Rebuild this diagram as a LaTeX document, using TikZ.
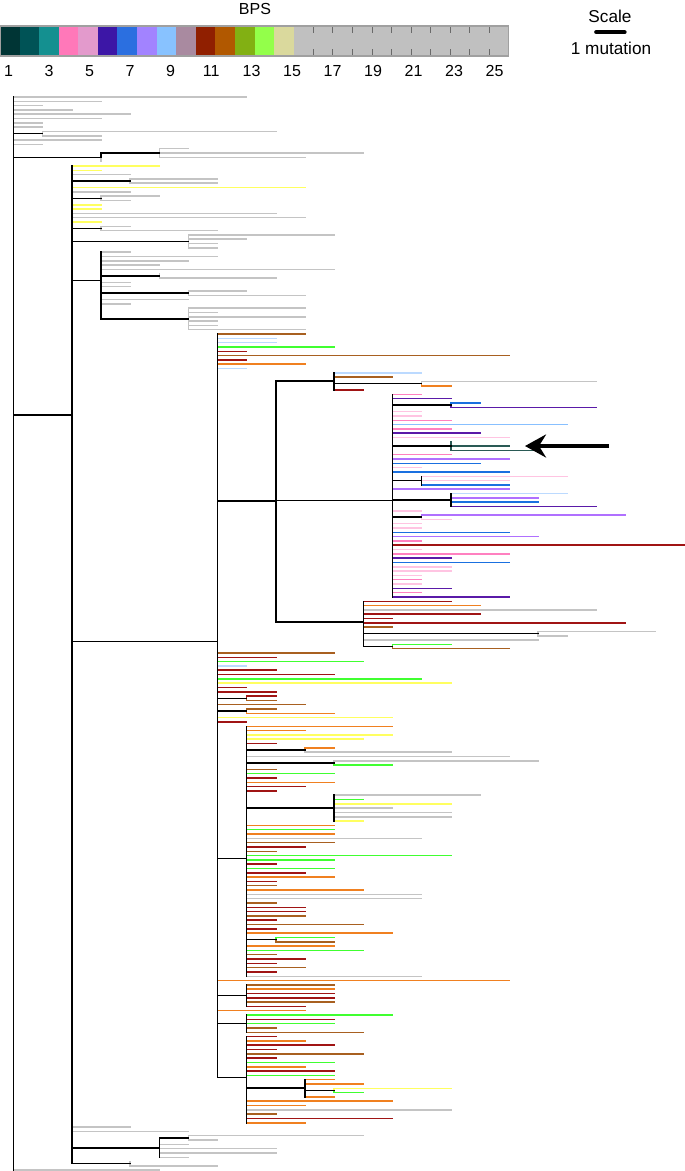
\documentclass[tikz,border=0pt]{standalone}
\usepackage{fontspec}
\setmainfont{Liberation Sans}
\usetikzlibrary{arrows.meta}
% legend colours
\definecolor{c1}{HTML}{003535}\definecolor{c2}{HTML}{005356}\definecolor{c3}{HTML}{149090}
\definecolor{c4}{HTML}{FF78B9}\definecolor{c5}{HTML}{E39ACC}\definecolor{c6}{HTML}{3C16A6}
\definecolor{c7}{HTML}{2B6FE0}\definecolor{c8}{HTML}{A283FF}\definecolor{c9}{HTML}{88C2FF}
\definecolor{c10}{HTML}{A98AA0}\definecolor{c11}{HTML}{901F00}\definecolor{c12}{HTML}{B15800}
\definecolor{c13}{HTML}{82B013}\definecolor{c14}{HTML}{93FF4A}\definecolor{c15}{HTML}{DAD99D}
\definecolor{cg}{HTML}{C0C0C0}\definecolor{bord}{HTML}{A0A0A0}\definecolor{tickc}{HTML}{6A6A6A}
% tree colours
\definecolor{gry}{HTML}{C4C4C4}\definecolor{yel}{HTML}{FFFF60}\definecolor{lblue}{HTML}{BCDAFF}
\definecolor{skyb}{HTML}{88C0FF}\definecolor{hpink}{HTML}{FF80C0}\definecolor{lpink}{HTML}{FFC4E2}
\definecolor{dpurp}{HTML}{5A1AA8}\definecolor{mpurp}{HTML}{B070FF}\definecolor{blue}{HTML}{1A70E0}
\definecolor{dred}{HTML}{A01414}\definecolor{brown}{HTML}{A86020}\definecolor{orange}{HTML}{F08020}
\definecolor{green}{HTML}{40FF30}\definecolor{teal}{HTML}{2A5A55}
\newcommand{\px}[1]{13.5+29.15*(#1)}
\newcommand{\py}[1]{97+4.31*(#1)}
\newcommand{\cw}{19.577}
\tikzset{
  tl/.style={line width=1.5pt, line cap=rect},
  lbl/.style={inner sep=0pt, font=\fontsize{16}{16}\selectfont},
  lblb/.style={inner sep=0pt, font=\fontsize{17.2}{17.2}\selectfont},
  arrowst/.style={line width=4pt, -{Stealth[length=21pt, width=23pt, inset=7pt]}}
}
\begin{document}
\begin{tikzpicture}[x=1pt,y=-1pt]
\useasboundingbox (0,0) rectangle (685,1171);
% ---------- legend ----------
\fill[cg] ({15*\cw},26) rectangle (509,56);
\foreach \i/\c in {1/c1,2/c2,3/c3,4/c4,5/c5,6/c6,7/c7,8/c8,9/c9,10/c10,11/c11,12/c12,13/c13,14/c14,15/c15}
  \fill[\c] ({(\i-1)*\cw},26) rectangle ({\i*\cw},56);
\foreach \i in {16,...,25} {
  \draw[tickc, line width=0.8pt] ({\i*\cw},26) -- ++(0,7);
  \draw[tickc, line width=0.8pt] ({\i*\cw},56) -- ++(0,-7);
}
\draw[bord, line width=1.1pt] (0.5,26) rectangle (508.5,56);
\foreach \i in {1,3,...,25}
  \node[lbl] (num\i) at ({8.6+20.25*(\i-1)},71) {\i};
\node[lbl] (bps) at (255,9) {BPS};
\node[lblb] (scale) at (610,16) {Scale};
\coordinate (sbA) at (596.3,32.2);
\coordinate (sbB) at (624.5,32.2);
\draw[line width=4.3pt, line cap=round] (sbA) -- (sbB);
\node[lblb] (mut) at (611,48.8) {1 mutation};
% ---------- leaves ----------
\foreach \r/\a/\b/\c in {
0/0/8/gry,1/0/3/gry,2/0/1/gry,3/0/2/gry,4/0/4/gry,5/0/3/gry,6/0/1/gry,7/0/1/gry,8/1/9/gry,9/1/3/gry,
10/0/3/gry,11/0/1/gry,12/5/6/gry,13/5/12/gry,14/5/10/gry,16/2/5/yel,17/2/3/yel,18/2/4/gry,19/4/7/gry,
20/4/7/gry,21/2/10/yel,22/2/4/gry,23/3/5/gry,24/3/4/gry,25/2/3/yel,26/2/3/yel,27/2/9/gry,28/2/10/gry,29/2/3/yel,
30/3/4/gry,31/3/7/gry,32/6/11/gry,33/6/8/gry,34/6/7/gry,35/6/7/gry,36/3/4/gry,37/3/7/gry,38/3/6/gry,39/3/5/gry,
40/3/11/gry,42/5/9/gry,43/3/4/gry,44/3/4/gry,45/6/8/gry,46/6/10/gry,47/3/6/gry,48/3/4/gry,49/6/10/gry,
50/6/7/gry,51/6/10/gry,52/6/7/gry,53/6/7/gry,54/6/10/gry,55/7/10/brown,56/7/9/lblue,57/7/9/lblue,58/7/11/green,59/7/8/dred,
60/7/17/brown,61/7/8/dred,62/7/10/orange,63/7/8/lblue,64/11/14/lblue,65/11/13/brown,66/14/20/gry,67/14/15/orange,68/11/12/dred,69/13/14/hpink,
70/13/15/dpurp,71/15/16/blue,72/15/20/dpurp,73/13/14/lpink,74/13/14/lpink,75/13/15/hpink,76/13/19/skyb,77/13/15/hpink,78/13/16/dpurp,79/13/17/lpink,
81/15/17/teal,82/15/18/teal,83/13/15/hpink,84/13/17/mpurp,85/13/16/blue,86/13/14/lpink,87/13/17/blue,88/14/19/lpink,89/14/17/lpink,
90/14/17/blue,91/13/17/mpurp,92/15/19/lblue,93/15/18/mpurp,94/15/18/blue,95/15/20/dpurp,96/13/14/lpink,97/14/21/mpurp,98/14/15/lpink,99/13/14/lpink,
100/13/14/lpink,101/13/17/blue,102/13/18/mpurp,103/13/14/hpink,104/13/23/dred,105/13/14/lpink,106/13/17/hpink,107/13/15/dpurp,108/13/17/blue,109/13/15/lpink,
110/13/15/lpink,111/13/14/lpink,112/13/14/hpink,113/13/14/lpink,114/13/15/dpurp,115/13/14/hpink,116/13/17/dpurp,117/12/15/dred,118/12/16/orange,119/12/20/gry,
120/12/16/dred,121/12/13/dred,122/12/21/dred,123/12/13/brown,124/18/22/gry,125/18/19/gry,126/12/18/gry,127/13/15/green,128/13/17/brown,129/7/11/brown,
130/7/9/dred,131/7/12/green,132/7/8/lblue,133/7/9/dred,134/7/11/dred,135/7/14/green,136/7/15/yel,137/7/8/dred,138/7/9/dred,139/8/9/dred,
140/8/9/brown,141/7/10/brown,142/8/9/brown,143/8/11/orange,144/7/13/yel,145/7/8/dred,146/8/13/orange,147/8/10/orange,148/8/13/yel,149/8/12/yel,
150/8/9/dred,151/10/11/orange,152/10/15/gry,153/8/17/gry,154/11/18/gry,155/11/13/green,156/8/9/brown,157/8/11/green,158/8/9/dred,159/8/11/orange,
160/8/10/dred,161/8/9/dred,162/11/16/gry,163/11/12/green,164/11/15/yel,165/11/13/gry,166/11/15/gry,167/11/15/gry,168/11/12/yel,169/8/11/orange,
170/8/11/green,171/8/11/orange,172/8/14/gry,173/8/11/brown,174/8/10/dred,175/8/9/brown,176/8/15/green,177/8/11/green,178/8/9/dred,179/8/11/green,
180/8/10/dred,181/8/11/orange,182/8/9/dred,183/8/9/brown,184/8/12/orange,185/8/14/gry,186/8/14/gry,187/8/9/brown,188/8/10/dred,189/8/10/dred,
190/8/10/brown,191/8/9/dred,192/8/12/brown,193/8/9/dred,194/8/13/orange,195/9/11/green,196/9/11/brown,197/8/11/orange,198/8/12/green,199/8/9/brown,
200/8/10/dred,201/8/9/dred,202/8/10/brown,203/8/9/dred,204/8/14/gry,205/7/17/orange,206/8/11/brown,207/8/11/orange,208/8/11/dred,209/8/11/dred,
210/8/11/brown,211/8/10/dred,212/7/10/orange,213/8/13/green,214/8/11/dred,215/8/11/green,216/8/9/brown,217/8/12/brown,218/8/9/dred,219/8/10/orange,
220/8/11/dred,221/8/9/dred,222/8/12/brown,223/8/9/dred,224/8/11/green,225/8/10/orange,226/8/11/dred,227/8/11/green,228/10/11/orange,229/10/12/orange,
230/11/15/yel,231/11/12/green,232/10/11/orange,233/8/13/orange,234/8/10/orange,235/8/15/gry,236/8/9/brown,237/8/13/dred,238/8/10/orange,239/2/4/gry,
240/2/6/gry,241/6/12/gry,242/6/7/gry,243/5/6/gry,244/5/9/gry,245/5/9/gry,246/5/6/gry,248/4/7/gry,249/0/5/gry}
  \draw[tl,\c] ({\px{\a}},{\py{\r}}) -- ({\px{\b}},{\py{\r}});
% ---------- vertical bars (level / from row / to row / colour) ----------
\foreach \l/\p/\q/\c in {
1/8/9/gry, 3/14/15/gry, 5/12/14/gry, 4/19/20/gry, 3/23/24/gry, 3/30/31/gry, 6/32/35/gry,
5/41/42/gry, 6/45/46/gry, 6/49/54/gry,
14/66/66.5/gry, 14/66.5/67/orange, 15/71/71.5/blue, 15/71.5/72/dpurp, 15/80/82/teal,
14/97/97.5/mpurp, 14/97.5/98/lpink, 18/124/125/gry, 13/127/127.5/green, 13/127.5/128/brown,
8/139/139.5/dred, 8/139.5/140/brown, 8/142/142.5/brown, 8/142.5/143/orange,
10/151/151.5/orange, 10/151.5/152/gry, 11/154/154.5/gry, 11/154.5/155/green,
9/195/195.5/green, 9/195.5/196/brown, 11/230/230.5/yel, 11/230.5/231/green,
6/241/242/gry, 4/247/248/gry,
3/13/14/black, 2/16/247.5/black, 3/36/51.5/black, 7/55/227.52/black, 9/65.875/121.8/black,
11/64/68/black, 13/69/116/black, 14/88/90/black, 15/92/95/black, 12/117/127.5/black,
8/146/204/black, 11/162/168/black, 8/206/211/black, 8/213/217/black, 8/218/238/black,
10/228/232/black, 5/241.5/246/black, 0/0/249/black}
  \draw[tl,\c] ({\px{\l}},{\py{\p}}) -- ({\px{\l}},{\py{\q}});
% ---------- internal branches (row / from level / to level) ----------
\foreach \r/\a/\b in {
8.5/0/1, 14/0/3, 13/3/5, 73.76/0/2, 19.5/2/4, 23.5/2/3, 30.5/2/3, 33.5/2/6, 42.54/2/3,
41.5/3/5, 45.5/3/6, 51.5/3/6, 126.34/2/7, 93.76/7/9, 65.875/9/11, 66.5/11/14, 93.6/9/13,
71.5/13/15, 81/13/15, 89/13/14, 93.5/13/15, 97.5/13/14, 121.8/9/12, 124.5/12/18, 127.5/12/13,
139.5/7/8, 142.5/7/8, 176.67/7/8, 151.5/8/10, 154.5/8/11, 165/8/11, 195.5/8/9, 208.5/7/8,
215/7/8, 227.52/7/8, 229.875/8/10, 230.5/10/11, 243.9/2/5, 241.5/5/6, 247.5/2/4}
  \draw[tl,black] ({\px{\a}},{\py{\r}}) -- ({\px{\b}},{\py{\r}});
% ---------- arrow ----------
\coordinate (arrS) at (609,446);
\coordinate (arrT) at (525,446);
\draw[arrowst] (arrS) -- (arrT);
\end{tikzpicture}
\end{document}
